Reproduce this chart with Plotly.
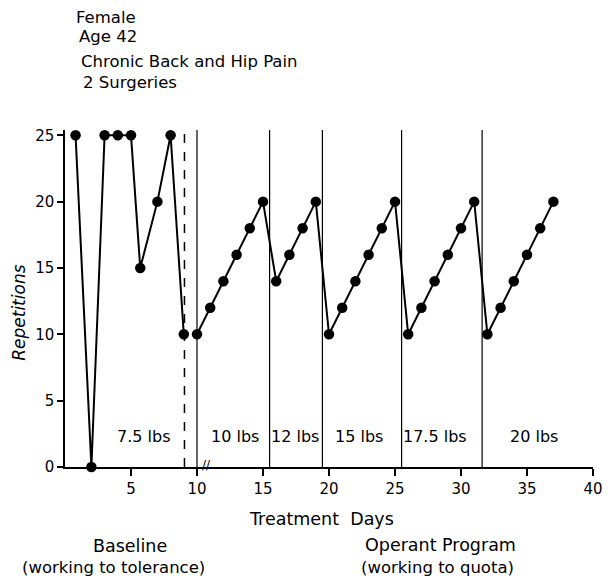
import plotly.graph_objects as go

# Baseline (working to tolerance)
base_days = [0.8, 2, 3, 4, 5, 5.7, 7, 8, 9]
base_reps = [25, 0, 25, 25, 25, 15, 20, 25, 10]

# Operant program (working to quota)
treat_days = list(range(10, 38))
treat_reps = [10, 12, 14, 16, 18, 20,
              14, 16, 18, 20,
              10, 12, 14, 16, 18, 20,
              10, 12, 14, 16, 18, 20,
              10, 12, 14, 16, 18, 20]

# Phase boundaries
dashed_line_day = 9.05
solid_line_days = [10, 15.5, 19.5, 25.5, 31.6]

# Weight labels
weight_labels = ["7.5 lbs", "10 lbs", "12 lbs", "15 lbs", "17.5 lbs", "20 lbs"]
weight_label_x = [5.95, 12.85, 17.4, 22.3, 28.0, 35.5]

x_ticks = [5, 10, 15, 20, 25, 30, 35, 40]
y_ticks = [0, 5, 10, 15, 20, 25]

FONT = "DejaVu Sans"
OFF = 8  # default page body margin
fig = go.Figure()

for d, r in [(base_days, base_reps), (treat_days, treat_reps)]:
    fig.add_trace(go.Scatter(
        x=d, y=r, mode="lines+markers",
        line=dict(color="black", width=2),
        marker=dict(color="black", size=10.5),
        cliponaxis=False, showlegend=False, hoverinfo="x+y"))

shapes = [dict(type="line", xref="x", yref="y", x0=dashed_line_day, x1=dashed_line_day,
               y0=0, y1=25.4, line=dict(color="black", width=1.5, dash="dash"))]
for d in solid_line_days:
    shapes.append(dict(type="line", xref="x", yref="y", x0=d, x1=d, y0=0, y1=25.4,
                       line=dict(color="black", width=1.2)))

annotations = []
for t, x in zip(weight_labels, weight_label_x):
    annotations.append(dict(x=x, y=2.3, xref="x", yref="y", text=t, showarrow=False,
                            xanchor="center",
                            font=dict(family=FONT, size=16, color="black")))
# axis break mark
annotations.append(dict(x=10.75, y=0, xref="x", yref="y", text="//", showarrow=False,
                        xanchor="center",
                        font=dict(family=FONT, size=12, color="black"), yshift=2))

# page pixel geometry of the plot area
FIG_W, FIG_H = 615 - OFF, 578 - OFF
PLOT_L, PLOT_R, PLOT_T, PLOT_B = 65, 602, 130, 467
L = PLOT_L - OFF
T = PLOT_T - OFF
R = OFF + FIG_W - PLOT_R
B = OFF + FIG_H - PLOT_B
W, H = PLOT_R - PLOT_L, PLOT_B - PLOT_T

def px2paper(px, py):
    return (px - PLOT_L) / W, (PLOT_B - py) / H

def text_at(px, py, t, anchor="center", size=14):
    x, y = px2paper(px, py)
    return dict(x=x, y=y, xref="paper", yref="paper", text=t, showarrow=False,
                xanchor=anchor, yanchor="middle", font=dict(family=FONT, size=size, color="black"))

# header text
for t, px, py in [("Female", 74, 17), ("Age 42", 77, 37),
                  ("Chronic Back and Hip Pain", 79, 62), ("2 Surgeries", 81, 83)]:
    annotations.append(text_at(px, py, t, anchor="left", size=16.5))

# bottom text
for t, px, py, s in [("Treatment  Days", 326, 519, 17.5), ("Baseline", 131, 546, 17.5),
                     ("(working to tolerance)", 114, 567, 16.5),
                     ("Operant Program", 447, 545, 17.5),
                     ("(working to quota)", 444, 567, 16.5)]:
    annotations.append(text_at(px, py, t, size=s))

rx, ry = px2paper(18, 313)
annotations.append(dict(x=rx, y=ry, xref="paper", yref="paper", text="<i>Repetitions</i>",
                        textangle=-90, showarrow=False, xanchor="center", yanchor="middle",
                        font=dict(family=FONT, size=17, color="black")))

fig.update_layout(
    width=FIG_W, height=FIG_H,
    margin=dict(l=L, r=R, t=T, b=B),
    paper_bgcolor="white", plot_bgcolor="white",
    shapes=shapes, annotations=annotations,
    xaxis=dict(range=[0, 40], tickvals=x_ticks, showline=True, linecolor="black",
               linewidth=1.5, ticks="outside", ticklen=7, tickwidth=1.5, tickcolor="black",
               showgrid=False, zeroline=False,
               tickfont=dict(family=FONT, size=15, color="black")),
    yaxis=dict(range=[0, 25.4], tickvals=y_ticks, showline=True, linecolor="black",
               linewidth=1.5, ticks="outside", ticklen=6, tickwidth=1.5, tickcolor="black",
               showgrid=False, zeroline=False,
               tickfont=dict(family=FONT, size=15, color="black")),
)

fig.write_html("out.html")
